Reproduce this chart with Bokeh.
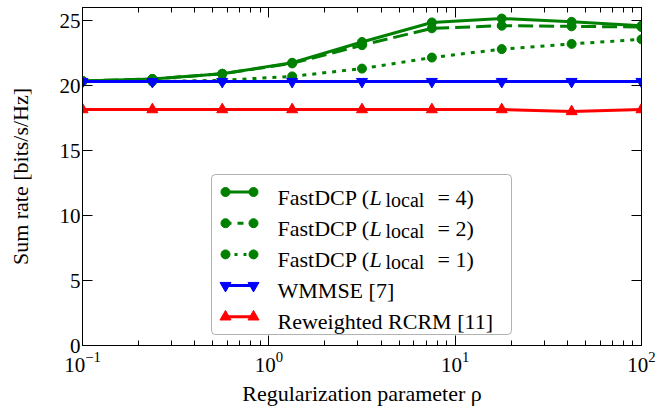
from bokeh.plotting import figure
from bokeh.models import (Range1d, LinearScale, LinearAxis, LogAxis, BoxAnnotation, FixedTicker)
from bokeh.core.properties import value
from bokeh.embed import file_html
from bokeh.resources import INLINE

# ---------------- data ----------------
rho = [0.1, 0.2371, 0.5623, 1.334, 3.162, 7.499, 17.78, 42.17, 100.0]
fast_l4 = [20.35, 20.5, 20.9, 21.75, 23.35, 24.85, 25.15, 24.9, 24.6]
fast_l2 = [20.35, 20.5, 20.9, 21.7, 23.1, 24.4, 24.6, 24.55, 24.5]
fast_l1 = [20.3, 20.3, 20.4, 20.7, 21.3, 22.15, 22.8, 23.2, 23.55]
wmmse = [20.3, 20.3, 20.3, 20.3, 20.3, 20.3, 20.3, 20.3, 20.3]
rcrm = [18.15, 18.15, 18.15, 18.15, 18.15, 18.15, 18.15, 18.0, 18.15]

x_ticks = [0.1, 1, 10, 100]
x_tick_labels = ["10⁻¹", "10⁰", "10¹", "10²"]
x_minor = [k * d for d in (0.1, 1, 10) for k in range(2, 10)]
y_ticks = [0, 5, 10, 15, 20, 25]

leg_main = ["FastDCP (", "FastDCP (", "FastDCP (", "WMMSE [7]", "Reweighted RCRM [11]"]
leg_L = ["L", "L", "L"]
leg_sub = ["local", "local", "local"]
leg_tail = ["= 4)", "= 2)", "= 1)"]

FONT = "Liberation Serif"
GREEN = "#008000"
BLUE = "#0000ff"
RED = "#ff0000"

FW, FH = 559, 338

p = figure(frame_width=FW, frame_height=FH, x_axis_type="log",
           x_range=Range1d(0.1, 100), y_range=Range1d(0, 26),
           output_backend="svg", toolbar_location=None,
           min_border_left=82, min_border_right=17, min_border_top=7, min_border_bottom=63)
p.background_fill_color = "white"
p.border_fill_color = "white"
p.outline_line_color = "black"
p.outline_line_width = 1
p.xgrid.visible = False
p.ygrid.visible = False

xt = FixedTicker(ticks=x_ticks, minor_ticks=x_minor)
yt = FixedTicker(ticks=y_ticks, minor_ticks=[])


def style_axis(ax, labels=True):
    ax.major_tick_in = 10
    ax.major_tick_out = 0
    ax.minor_tick_in = 5
    ax.minor_tick_out = 0
    ax.axis_line_color = "black"
    ax.major_tick_line_color = "black"
    ax.minor_tick_line_color = "black"
    ax.major_label_text_font = FONT
    ax.major_label_text_color = "black"
    ax.axis_label_text_font = FONT
    ax.axis_label_text_font_style = "normal"
    ax.axis_label_text_color = "black"
    ax.axis_label_text_font_size = "22px"
    ax.major_label_text_font_size = "21px"
    if not labels:
        ax.major_label_text_color = None
        ax.major_label_text_font_size = "1px"
        ax.major_label_standoff = 0


xa = p.xaxis[0]
xa.ticker = xt
style_axis(xa)
xa.major_label_overrides = {str(t): s for t, s in zip(x_ticks, x_tick_labels)}
xa.major_label_standoff = 6
xa.axis_label = "Regularization parameter ρ"
xa.axis_label_standoff = 6

ya = p.yaxis[0]
ya.ticker = yt
style_axis(ya)
ya.major_label_standoff = 2
ya.axis_label = "Sum rate [bits/s/Hz]"
ya.axis_label_standoff = 24

top = LogAxis(ticker=xt)
style_axis(top, labels=False)
p.add_layout(top, "above")
right = LinearAxis(ticker=yt)
style_axis(right, labels=False)
p.add_layout(right, "right")

# ---------------- series ----------------
LW = 3
p.line(rho, fast_l4, color=GREEN, line_width=LW)
p.scatter(rho, fast_l4, marker="circle", size=9, color=GREEN)
p.line(rho, fast_l2, color=GREEN, line_width=LW, line_dash="15 6")
p.scatter(rho, fast_l2, marker="circle", size=9, color=GREEN)
p.line(rho, fast_l1, color=GREEN, line_width=LW, line_dash="4 6")
p.scatter(rho, fast_l1, marker="circle", size=9, color=GREEN)
p.line(rho, wmmse, color=BLUE, line_width=LW)
p.scatter(rho, wmmse, marker="inverted_triangle", size=11, color=BLUE)
p.line(rho, rcrm, color=RED, line_width=LW)
p.scatter(rho, rcrm, marker="triangle", size=11, color=RED)

# ---------------- legend (pixel space inside the frame) ----------------
p.extra_x_ranges = {"px": Range1d(0, FW)}
p.extra_y_ranges = {"px": Range1d(0, FH)}
p.extra_x_scales = {"px": LinearScale()}
p.extra_y_scales = {"px": LinearScale()}

box = BoxAnnotation(left=129, right=429, bottom=11, top=171,
                    left_units="screen", right_units="screen",
                    bottom_units="screen", top_units="screen",
                    fill_color="white", fill_alpha=1.0, line_color="black",
                    line_width=1, border_radius=4, level="underlay")
p.add_layout(box)

row_base = [148.5, 117.3, 86.1, 54.9, 23.7]
styles = [(GREEN, None, "circle", 9), (GREEN, "6 6", "circle", 9),
          (GREEN, "3 6", "circle", 9), (BLUE, None, "inverted_triangle", 11),
          (RED, None, "triangle", 11)]
x0, x1 = 143, 171
for b, (c, dash, mk, sz) in zip(row_base, styles):
    yc = b + 5
    kw = dict(line_dash=dash) if dash else {}
    p.line([x0, x1], [yc, yc], color=c, line_width=LW, x_range_name="px", y_range_name="px", **kw)
    p.scatter([x0, x1], [yc, yc], marker=mk, size=sz, color=c, x_range_name="px", y_range_name="px")

p.text(x=[195] * 5, y=row_base, text=leg_main, text_font=value(FONT), text_font_size="22px",
       text_baseline="alphabetic", text_color="black", x_range_name="px", y_range_name="px")
p.text(x=[287] * 3, y=row_base[:3], text=leg_L, text_font=value(FONT), text_font_size="22px",
       text_font_style="italic", text_baseline="alphabetic", text_color="black",
       x_range_name="px", y_range_name="px")
p.text(x=[303] * 3, y=[b - 3 for b in row_base[:3]], text=leg_sub, text_font=value(FONT),
       text_font_size="20px", text_baseline="alphabetic", text_color="black",
       x_range_name="px", y_range_name="px")
p.text(x=[355] * 3, y=row_base[:3], text=leg_tail, text_font=value(FONT), text_font_size="22px",
       text_baseline="alphabetic", text_color="black", x_range_name="px", y_range_name="px")

open("out.html", "w").write(file_html(p, INLINE))
